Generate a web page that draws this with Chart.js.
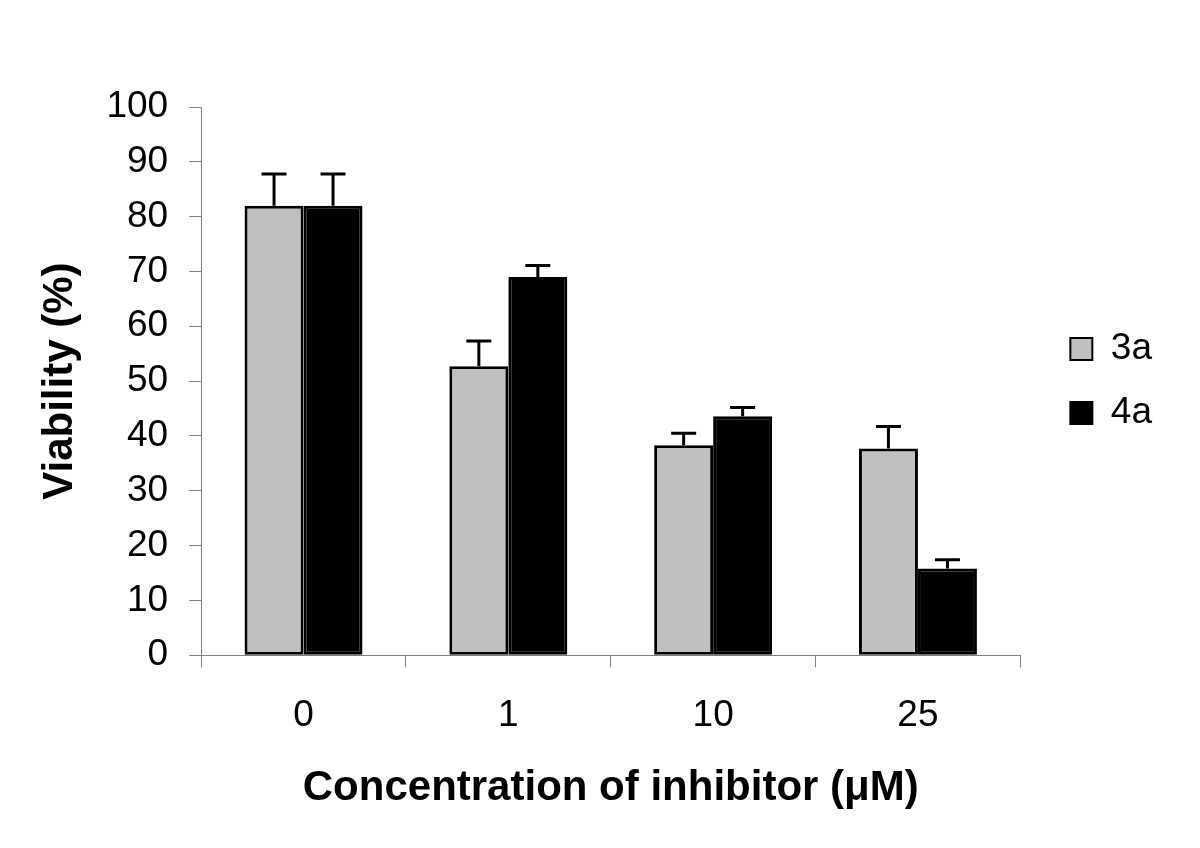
<!DOCTYPE html>
<html>
<head>
<meta charset="utf-8">
<script src="https://cdn.jsdelivr.net/npm/chart.js@4.4.0/dist/chart.umd.min.js"></script>
<style>
  html, body { margin: 0; padding: 0; background: #fff; }
  #wrap { width: 1200px; height: 848px; }
</style>
</head>
<body>
<div id="wrap"><canvas id="myChart" width="1200" height="848"></canvas></div>
<script>
// concentration of inhibitor (uM)
let categories = ["0", "1", "10", "25"];

// viability (%) and upper error
let values3a = [82, 52.7, 38.3, 37.7];
let errors3a = [5.8, 4.6, 2.2, 4.0];
let values4a = [82, 69.0, 43.6, 15.8];
let errors4a = [5.8, 2.1, 1.6, 1.6];

let yTicks = [0, 10, 20, 30, 40, 50, 60, 70, 80, 90, 100];

let fontName = "'Liberation Sans', Arial, sans-serif";
let axisGrey = "#7f7f7f";

// draws the upward error bars on top of each bar
const errorBars = {
  id: "errorBars",
  afterDatasetsDraw(chart) {
    let ctx = chart.ctx;
    let yScale = chart.scales.y;
    chart.data.datasets.forEach((ds, i) => {
      let meta = chart.getDatasetMeta(i);
      meta.data.forEach((bar, j) => {
        let top = yScale.getPixelForValue(ds.data[j] + ds.errors[j]);
        ctx.save();
        ctx.strokeStyle = "#000";
        ctx.lineWidth = 3;
        ctx.beginPath();
        ctx.moveTo(bar.x, bar.y);
        ctx.lineTo(bar.x, top);
        ctx.moveTo(bar.x - 12.5, top);
        ctx.lineTo(bar.x + 12.5, top);
        ctx.stroke();
        ctx.restore();
      });
    });
  }
};

const data = {
  labels: categories,
  datasets: [
    {
      label: "3a",
      data: values3a,
      errors: errors3a,
      backgroundColor: "#c0c0c0",
      borderColor: "#000",
      borderWidth: 3,
      borderSkipped: false,
    },
    {
      label: "4a",
      data: values4a,
      errors: errors4a,
      backgroundColor: "#000",
      borderColor: "#000",
      borderWidth: 3,
      borderSkipped: false,
    },
  ],
};

const config = {
  type: "bar",
  data: data,
  plugins: [errorBars],
  options: {
    responsive: false,
    animation: false,
    devicePixelRatio: 1,
    categoryPercentage: 0.576,
    barPercentage: 1,
    layout: { padding: { top: 107, right: 38, bottom: 34, left: 35 } },
    plugins: {
      tooltip: { enabled: false },
      legend: {
        position: "right",
        fullSize: false,
        labels: {
          color: "#000",
          font: { family: fontName, size: 37 },
          boxWidth: 22,
          boxHeight: 22,
          padding: 27,
          generateLabels(chart) {
            return chart.data.datasets.map((ds, i) => ({
              text: ds.label,
              fillStyle: ds.backgroundColor,
              strokeStyle: "#000",
              lineWidth: 2,
              fontColor: "#000",
              datasetIndex: i,
            }));
          },
        },
      },
    },
    scales: {
      x: {
        offset: true,
        grid: {
          offset: true,
          drawOnChartArea: false,
          drawTicks: true,
          tickLength: 12,
          color: axisGrey,
        },
        border: { color: axisGrey, width: 1 },
        ticks: {
          color: "#000",
          font: { family: fontName, size: 37 },
          padding: 26,
        },
        title: {
          display: true,
          text: "Concentration of inhibitor (\u03bcM)",
          color: "#000",
          font: { family: fontName, size: 42, weight: "bold" },
          padding: { top: 0, bottom: 0 },
        },
      },
      y: {
        min: 0,
        max: 100,
        afterBuildTicks(axis) {
          axis.ticks = yTicks.map((v) => ({ value: v }));
        },
        grid: {
          drawOnChartArea: false,
          drawTicks: true,
          tickLength: 12,
          color: axisGrey,
        },
        border: { color: axisGrey, width: 1 },
        ticks: {
          color: "#000",
          font: { family: fontName, size: 37 },
          padding: 21,
        },
        title: {
          display: true,
          text: "Viability (%)",
          color: "#000",
          font: { family: fontName, size: 42, weight: "bold" },
          padding: { top: 0, bottom: 0 },
        },
      },
      // empty spacer between plot and legend
      gap: {
        type: "linear",
        position: "right",
        grid: { display: false },
        border: { display: false },
        ticks: { display: false },
        afterFit(scale) {
          scale.width = 23;
        },
      },
    },
  },
};

const myChart = new Chart(document.getElementById("myChart"), config);
</script>
</body>
</html>
